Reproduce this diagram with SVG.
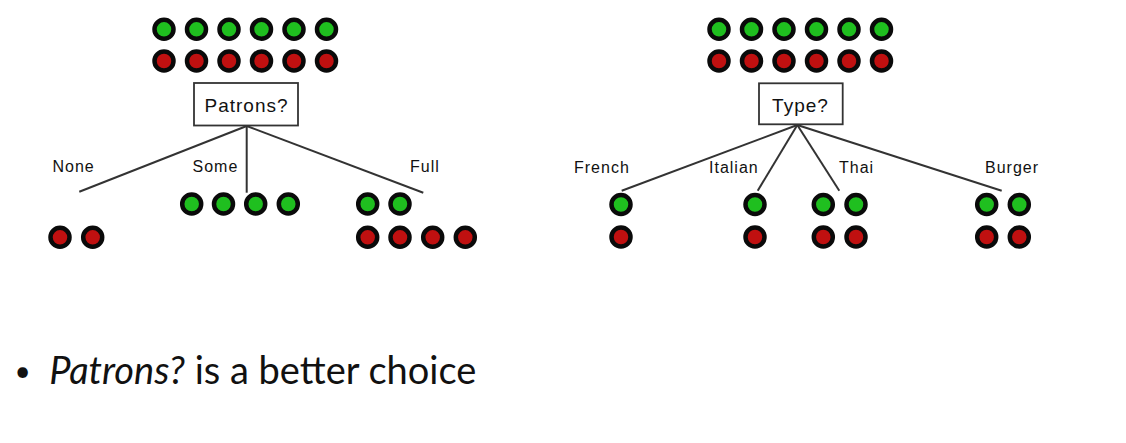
<svg xmlns="http://www.w3.org/2000/svg" width="1126" height="443" viewBox="0 0 1126 443">
<defs>
<style>
.g{fill:#1fbf1f;stroke:#0a0a0a;stroke-width:4.5}
.r{fill:#c01010;stroke:#0a0a0a;stroke-width:4.5}
.box{fill:#fff;stroke:#333;stroke-width:1.8}
.bt{font-family:"Liberation Sans",Arial,sans-serif;font-size:19px;letter-spacing:1px;fill:#111;text-anchor:middle}
.lb{font-family:"Liberation Sans",Arial,sans-serif;font-size:16px;letter-spacing:1px;fill:#111}
.ln{stroke:#333;stroke-width:2;fill:none}
.bul{font-family:Lato,"Open Sans",sans-serif;font-size:38px;fill:#111}
</style>
<g id="gr"><circle class="g" r="9.5"/></g>
<g id="rd"><circle class="r" r="9.5"/></g>
</defs>
<rect width="1126" height="443" fill="#fff"/>

<g id="connectors">
<line class="ln" x1="246.7" y1="126" x2="79.3" y2="191.7"/>
<line class="ln" x1="246.7" y1="126" x2="246.7" y2="192.7"/>
<line class="ln" x1="246.7" y1="126" x2="423.3" y2="192.7"/>
<line class="ln" x1="797.3" y1="125" x2="621.7" y2="190.7"/>
<line class="ln" x1="797.3" y1="125" x2="757.7" y2="190.7"/>
<line class="ln" x1="797.3" y1="125" x2="839.3" y2="190.7"/>
<line class="ln" x1="797.3" y1="125" x2="1001.7" y2="190.7"/>
</g>

<g id="patrons-root">
<use href="#gr" x="164" y="29.3"/><use href="#gr" x="196.5" y="29.3"/><use href="#gr" x="229" y="29.3"/><use href="#gr" x="261.5" y="29.3"/><use href="#gr" x="294" y="29.3"/><use href="#gr" x="326.5" y="29.3"/>
<use href="#rd" x="164" y="61"/><use href="#rd" x="196.5" y="61"/><use href="#rd" x="229" y="61"/><use href="#rd" x="261.5" y="61"/><use href="#rd" x="294" y="61"/><use href="#rd" x="326.5" y="61"/>
<rect class="box" x="194" y="83" width="104" height="42.5"/>
<text class="bt" x="246.5" y="111.5">Patrons?</text>
</g>

<g id="patrons-none">
<text class="lb" x="52.5" y="171.5">None</text>
<use href="#rd" x="60" y="237.3"/><use href="#rd" x="92.7" y="237.3"/>
</g>
<g id="patrons-some">
<text class="lb" x="192.5" y="171.5">Some</text>
<use href="#gr" x="191.7" y="204"/><use href="#gr" x="223.5" y="204"/><use href="#gr" x="255.7" y="204"/><use href="#gr" x="288.3" y="204"/>
</g>
<g id="patrons-full">
<text class="lb" x="410" y="171.5">Full</text>
<use href="#gr" x="367.7" y="204"/><use href="#gr" x="400" y="204"/>
<use href="#rd" x="367.7" y="237.3"/><use href="#rd" x="400" y="237.3"/><use href="#rd" x="432.7" y="237.3"/><use href="#rd" x="465.3" y="237.3"/>
</g>

<g id="type-root">
<use href="#gr" x="719" y="29.3"/><use href="#gr" x="751.5" y="29.3"/><use href="#gr" x="784" y="29.3"/><use href="#gr" x="816.5" y="29.3"/><use href="#gr" x="849" y="29.3"/><use href="#gr" x="881.5" y="29.3"/>
<use href="#rd" x="719" y="61"/><use href="#rd" x="751.5" y="61"/><use href="#rd" x="784" y="61"/><use href="#rd" x="816.5" y="61"/><use href="#rd" x="849" y="61"/><use href="#rd" x="881.5" y="61"/>
<rect class="box" x="759" y="83.3" width="83.7" height="41"/>
<text class="bt" x="800.5" y="112.3">Type?</text>
</g>

<g id="type-french">
<text class="lb" x="574" y="173.3">French</text>
<use href="#gr" x="621" y="204.5"/><use href="#rd" x="621" y="237"/>
</g>
<g id="type-italian">
<text class="lb" x="709" y="173.3">Italian</text>
<use href="#gr" x="755" y="204.5"/><use href="#rd" x="755" y="237"/>
</g>
<g id="type-thai">
<text class="lb" x="839" y="173.3">Thai</text>
<use href="#gr" x="823.3" y="204.5"/><use href="#gr" x="856" y="204.5"/>
<use href="#rd" x="823.3" y="237"/><use href="#rd" x="856" y="237"/>
</g>
<g id="type-burger">
<text class="lb" x="985" y="173.3">Burger</text>
<use href="#gr" x="986.7" y="204.5"/><use href="#gr" x="1019.3" y="204.5"/>
<use href="#rd" x="986.7" y="237"/><use href="#rd" x="1019.3" y="237"/>
</g>

<g id="caption">
<text class="bul" x="22.7" y="381" text-anchor="middle" style="font-size:28px">•</text>
<text class="bul" x="49.3" y="384"><tspan font-style="italic">Patrons?</tspan> is a better choice</text>
</g>
</svg>
